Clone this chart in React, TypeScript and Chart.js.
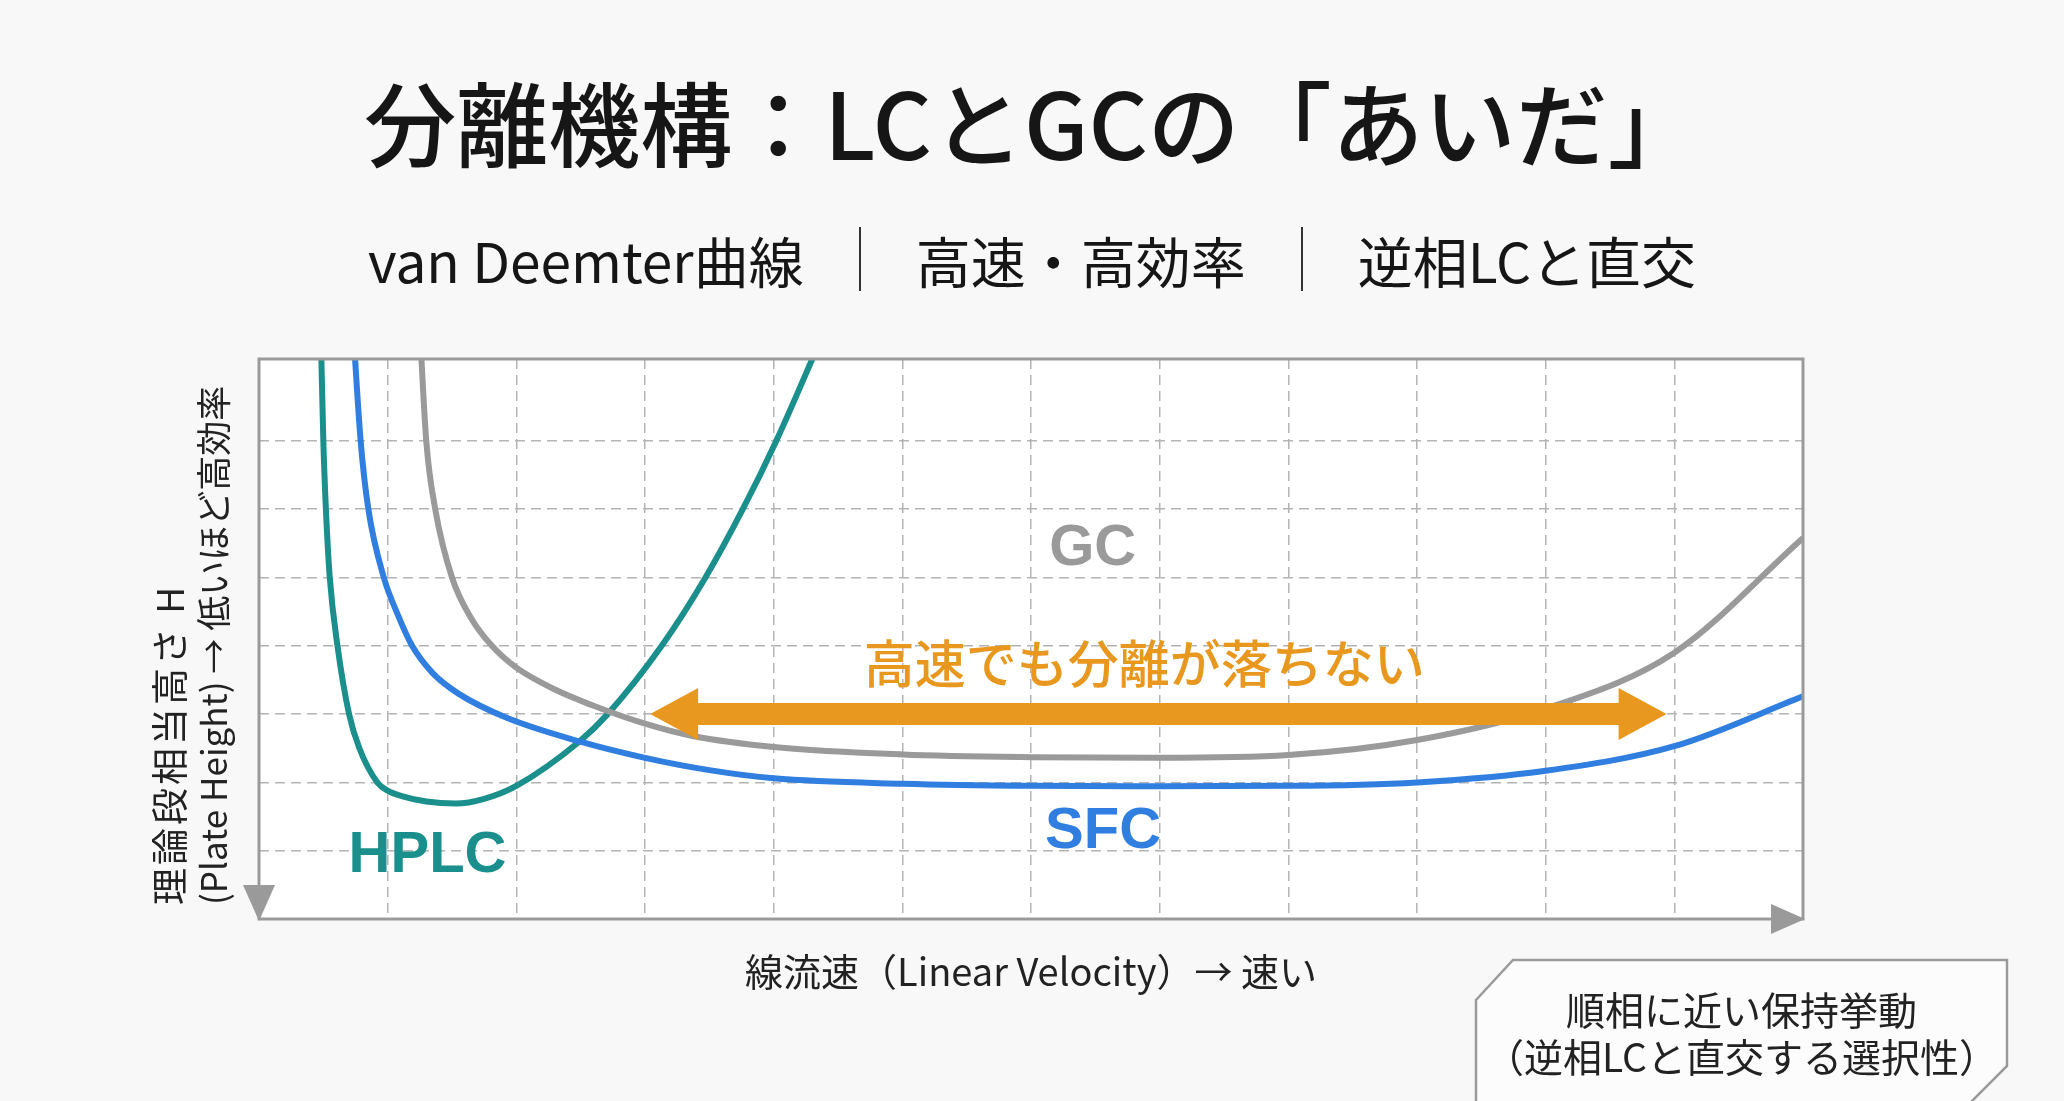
import { useEffect, useRef } from 'react'
import { Chart } from 'chart.js/auto'

// van Deemter curves (linear velocity -> plate height)
const hplcVelocity = [0.475, 0.5, 0.52, 0.55, 0.61, 0.7, 0.78, 0.92, 1.0, 1.11, 1.3, 1.53, 1.75, 2.0, 2.49, 2.71, 3.13, 3.47, 3.76, 4.02, 4.3, 4.48]
const hplcHeight = [9.0, 7.0, 6.0, 5.0, 4.0, 3.0, 2.5, 2.0, 1.88, 1.8, 1.72, 1.69, 1.76, 1.95, 2.6, 3.0, 4.0, 5.0, 6.0, 7.0, 8.2, 9.0]

const sfcVelocity = [0.72, 0.79, 0.85, 0.97, 1.08, 1.19, 1.35, 1.55, 1.92, 2.49, 3.0, 3.5, 4.0, 5.0, 6.0, 7.0, 8.0, 9.0, 10.0, 11.0, 12.0]
const sfcHeight = [9.0, 7.0, 6.0, 5.0, 4.45, 4.0, 3.6, 3.3, 2.95, 2.6, 2.36, 2.18, 2.06, 1.98, 1.95, 1.945, 1.95, 2.0, 2.17, 2.53, 3.26]

const gcVelocity = [1.24, 1.3, 1.37, 1.5, 1.65, 1.81, 2.0, 2.3, 2.59, 3.0, 3.37, 4.0, 5.0, 6.0, 7.0, 8.0, 9.0, 10.0, 11.0, 12.0]
const gcHeight = [9.0, 7.0, 6.0, 5.0, 4.4, 4.0, 3.68, 3.36, 3.13, 2.86, 2.68, 2.52, 2.41, 2.37, 2.36, 2.4, 2.62, 3.08, 3.9, 5.58]

const xGrid = [1, 2, 3, 4, 5, 6, 7, 8, 9, 10, 11]
const yGrid = [1, 2, 3, 4, 5, 6, 7]
const X_MAX = 12
const Y_MAX = 8.2

// "fast but still separated" arrow span, in data units
const arrowFrom = 3.04
const arrowTo = 10.94
const arrowLevel = 3.0

const curveLabels = ['HPLC', 'GC', 'SFC']
const arrowLabel = '高速でも分離が落ちない'

const TEAL = '#1a8f8b'
const BLUE = '#2f7ee0'
const GREY = '#9a9a9a'
const ORANGE = '#e8981e'

const JP = '"Noto Sans CJK JP", "Noto Sans", sans-serif'
const LATIN_BOLD = '"Liberation Sans", Arial, sans-serif'

const labelAnchors = [
  { x: 1.31, y: 0.92, color: TEAL },
  { x: 6.48, y: 5.42, color: GREY },
  { x: 6.56, y: 1.28, color: BLUE },
]

const toPoints = (xs: number[], ys: number[]) => xs.map((x, i) => ({ x, y: ys[i] }))

const plotDecor = {
  id: 'plotDecor',
  beforeDraw(chart: any) {
    const { ctx, chartArea: a } = chart
    ctx.save()
    ctx.fillStyle = '#ffffff'
    ctx.fillRect(a.left, a.top, a.right - a.left, a.bottom - a.top)
    ctx.restore()
  },
  afterDatasetsDraw(chart: any) {
    const { ctx, chartArea: a, scales } = chart
    const xs = scales.x
    const ys = scales.y
    ctx.save()

    // frame
    ctx.strokeStyle = GREY
    ctx.lineWidth = 3
    ctx.strokeRect(a.left, a.top, a.right - a.left, a.bottom - a.top)

    // axis arrow heads
    ctx.fillStyle = GREY
    ctx.beginPath()
    ctx.moveTo(a.left, a.bottom + 2)
    ctx.lineTo(a.left - 16, a.bottom - 34)
    ctx.lineTo(a.left + 16, a.bottom - 34)
    ctx.closePath()
    ctx.fill()
    ctx.beginPath()
    ctx.moveTo(a.right + 2, a.bottom)
    ctx.lineTo(a.right - 32, a.bottom - 15)
    ctx.lineTo(a.right - 32, a.bottom + 15)
    ctx.closePath()
    ctx.fill()

    // double arrow
    const x1 = xs.getPixelForValue(arrowFrom)
    const x2 = xs.getPixelForValue(arrowTo)
    const y = ys.getPixelForValue(arrowLevel)
    const hl = 48
    const hh = 26
    const sh = 11
    ctx.fillStyle = ORANGE
    ctx.beginPath()
    ctx.moveTo(x1, y)
    ctx.lineTo(x1 + hl, y - hh)
    ctx.lineTo(x1 + hl, y - sh)
    ctx.lineTo(x2 - hl, y - sh)
    ctx.lineTo(x2 - hl, y - hh)
    ctx.lineTo(x2, y)
    ctx.lineTo(x2 - hl, y + hh)
    ctx.lineTo(x2 - hl, y + sh)
    ctx.lineTo(x1 + hl, y + sh)
    ctx.lineTo(x1 + hl, y + hh)
    ctx.closePath()
    ctx.fill()

    // labels
    ctx.textAlign = 'center'
    ctx.textBaseline = 'middle'
    ctx.font = `bold 58px ${LATIN_BOLD}`
    curveLabels.forEach((t, i) => {
      const p = labelAnchors[i]
      ctx.fillStyle = p.color
      ctx.fillText(t, xs.getPixelForValue(p.x), ys.getPixelForValue(p.y))
    })
    ctx.font = `500 51px ${JP}`
    ctx.fillStyle = ORANGE
    ctx.fillText(arrowLabel, xs.getPixelForValue(6.88), ys.getPixelForValue(3.74))

    ctx.restore()
  },
}

export default function App() {
  const canvasRef = useRef<HTMLCanvasElement>(null)

  useEffect(() => {
    if (!canvasRef.current) return
    const line = (label: string, xs: number[], ys: number[], color: string) => ({
      label,
      data: toPoints(xs, ys),
      borderColor: color,
      borderWidth: 6,
      pointRadius: 0,
      cubicInterpolationMode: 'monotone' as const,
      fill: false,
    })
    const chart = new Chart(canvasRef.current, {
      type: 'line',
      data: {
        datasets: [
          line('GC', gcVelocity, gcHeight, GREY),
          line('SFC', sfcVelocity, sfcHeight, BLUE),
          line('HPLC', hplcVelocity, hplcHeight, TEAL),
        ],
      },
      options: {
        animation: false,
        responsive: true,
        maintainAspectRatio: false,
        layout: { padding: 30 },
        plugins: { legend: { display: false }, tooltip: { enabled: false } },
        scales: {
          x: {
            type: 'linear',
            min: 0,
            max: X_MAX,
            afterBuildTicks: (s: any) => { s.ticks = xGrid.map(v => ({ value: v })) },
            ticks: { display: false },
            grid: { color: '#b3b3b3', lineWidth: 1.5, drawTicks: false },
            border: { display: false, dash: [10, 6] },
          },
          y: {
            type: 'linear',
            min: 0,
            max: Y_MAX,
            afterBuildTicks: (s: any) => { s.ticks = yGrid.map(v => ({ value: v })) },
            ticks: { display: false },
            grid: { color: '#b3b3b3', lineWidth: 1.5, drawTicks: false },
            border: { display: false, dash: [10, 6] },
          },
        },
      },
      plugins: [plotDecor],
    } as any)
    return () => chart.destroy()
  }, [])

  return (
    <div style={{ position: 'fixed', left: 0, top: 0, width: 2064, height: 1101, background: '#f8f8f8', fontFamily: JP, color: '#161616', overflow: 'hidden' }}>
      <div style={{ position: 'absolute', left: 0, width: 2064, top: 70, fontSize: 92, lineHeight: '100px', fontWeight: 500, textAlign: 'center' }}>
        分離機構：LCとGCの「あいだ」
      </div>
      <div style={{ position: 'absolute', left: 0, width: 2064, top: 226, height: 66, display: 'flex', justifyContent: 'center', alignItems: 'center', fontSize: 55, lineHeight: '66px' }}>
        <span>van Deemter曲線</span>
        <span style={{ width: 2, height: 64, background: '#333', margin: '0 55px' }} />
        <span>高速・高効率</span>
        <span style={{ width: 2, height: 64, background: '#333', margin: '0 55px' }} />
        <span>逆相LCと直交</span>
      </div>

      <div style={{ position: 'absolute', left: 229, top: 329, width: 1604, height: 620 }}>
        <canvas ref={canvasRef} />
      </div>

      <div style={{ position: 'absolute', left: 147, top: 905, transformOrigin: '0 0', transform: 'rotate(-90deg)', lineHeight: '43px', whiteSpace: 'pre', color: '#222' }}>
        <div style={{ fontSize: 37, letterSpacing: 3 }}>{'理論段相当高さ H'}</div>
        <div style={{ fontSize: 35 }}>{'(Plate Height) → 低いほど高効率'}</div>
      </div>
      <div style={{ position: 'absolute', left: 0, top: 947, width: 2062, textAlign: 'center', fontSize: 38, lineHeight: '46px', color: '#222' }}>
        線流速（Linear Velocity）→ 速い
      </div>

      <svg style={{ position: 'absolute', left: 0, top: 0 }} width={2064} height={1101}>
        <polygon points="1476,1000 1513,960 2007,960 2007,1066 1962,1111 1476,1111" fill="#fcfcfc" stroke={GREY} strokeWidth={2.5} />
      </svg>
      <div style={{ position: 'absolute', left: 1476, width: 531, top: 985, textAlign: 'center', fontSize: 39, lineHeight: '47px', color: '#222' }}>
        順相に近い保持挙動<br />（逆相LCと直交する選択性）
      </div>
    </div>
  )
}
